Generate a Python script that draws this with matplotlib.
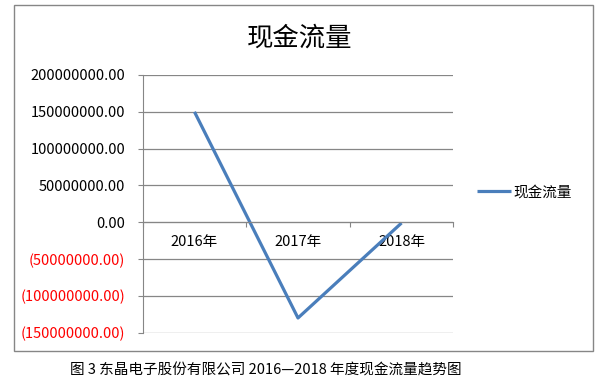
import matplotlib
matplotlib.use("Agg")
import matplotlib.pyplot as plt
from matplotlib.patches import Rectangle
from matplotlib.ticker import FuncFormatter, FixedLocator

plt.rcParams['font.family'] = ['Noto Sans CJK SC', 'DejaVu Sans']

# data
years = ['2016年', '2017年', '2018年']
cash_flow = [150000000.0, -130000000.0, -1000000.0]
y_ticks = [-150000000, -100000000, -50000000, 0, 50000000, 100000000, 150000000, 200000000]

title = '现金流量'
series_name = '现金流量'
caption = '图 3 东晶电子股份有限公司 2016—2018 年度现金流量趋势图'

grid_col = '#868686'
line_col = '#4A7EBB'

fig = plt.figure(figsize=(6.0, 3.83), dpi=100)
ax = fig.add_axes([0.2378, 0.1313, 0.7555 - 0.2378, 0.8042 - 0.1313])

x = list(range(len(years)))
ax.plot(x, cash_flow, color=line_col, lw=2.3, solid_capstyle='butt', label=series_name)

ax.set_xlim(-0.5, len(years) - 0.5)
ax.set_ylim(y_ticks[0], y_ticks[-1])
ax.set_yticks(y_ticks)

def fmt(v, pos):
    if v < 0:
        return '({:.2f})'.format(-v)
    return '{:.2f}'.format(v)

ax.yaxis.set_major_formatter(FuncFormatter(fmt))
ax.tick_params(axis='y', length=3.6, color=grid_col, labelsize=10.5, pad=9)
for lab, v in zip(ax.get_yticklabels(), y_ticks):
    lab.set_color('#FF0000' if v < 0 else 'black')

ax.grid(axis='y', color=grid_col, lw=0.9)
ax.set_axisbelow(True)

# category axis sits on the zero line
ax.spines['bottom'].set_position(('data', 0))
ax.spines['bottom'].set_color(grid_col)
ax.spines['left'].set_color(grid_col)
ax.spines['top'].set_visible(False)
ax.spines['right'].set_visible(False)
ax.xaxis.set_major_locator(FixedLocator([i - 0.5 for i in range(len(years) + 1)]))
ax.xaxis.set_major_formatter(FuncFormatter(lambda v, p: ''))
ax.xaxis.set_minor_locator(FixedLocator(x))
ax.set_xticklabels(years, minor=True)
ax.tick_params(axis='x', which='major', length=3.6, color=grid_col)
ax.tick_params(axis='x', which='minor', length=0, labelsize=10.5, pad=9)

fig.text(0.5, 0.9, title, ha='center', va='center', fontsize=19)

ax.legend(loc='center left', bbox_to_anchor=(1.034, 0.545), frameon=False,
          fontsize=10.5, handlelength=2.3, handletextpad=0.2)

fig.add_artist(Rectangle((0.0233, 0.0836), 0.965, 0.903, transform=fig.transFigure,
                         fill=False, edgecolor=grid_col, lw=1))

fig.text(0.443, 0.034, caption, ha='center', va='center', fontsize=10.5)

fig.savefig('out.png', dpi=100)
